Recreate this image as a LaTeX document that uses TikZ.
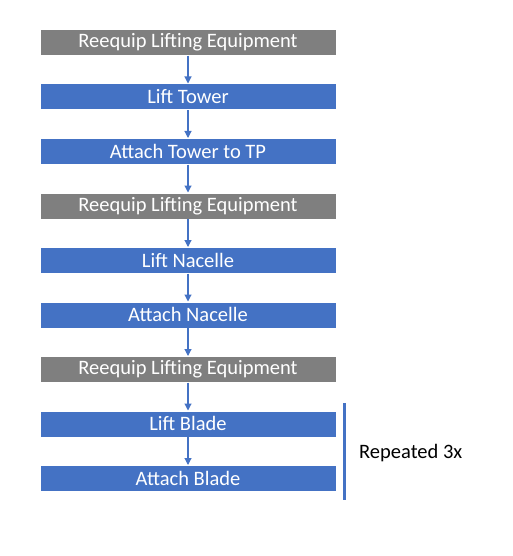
\documentclass[tikz,border=0pt]{standalone}
\usepackage{fontspec}
\setmainfont{Carlito}
\usetikzlibrary{arrows.meta}
\definecolor{bblue}{HTML}{4472C4}
\definecolor{bgray}{HTML}{7F7F7F}
\begin{document}
\begin{tikzpicture}[x=1pt,y=-1pt,
  stepbox/.style={draw=white,line width=0.6pt,minimum width=296pt,minimum height=26pt,inner sep=0pt,text=white,font=\fontsize{20.5}{24}\selectfont,anchor=north},
  bluebox/.style={stepbox,fill=bblue},
  graybox/.style={stepbox,fill=bgray},
  conn/.style={draw=bblue,line width=1.1pt,-{Triangle[length=7pt,width=7pt]}}]
\useasboundingbox (0,0) rectangle (512,556);
\node[graybox] (a) at (188,29) {Reequip Lifting Equipment};
\node[bluebox] (b) at (188,83.5) {Lift Tower};
\node[bluebox] (c) at (188,138) {Attach Tower to TP};
\node[graybox] (d) at (188,192.5) {Reequip Lifting Equipment};
\node[bluebox] (e) at (188,247) {Lift Nacelle};
\node[bluebox] (f) at (188,301.5) {Attach Nacelle};
\node[graybox] (g) at (188,356) {Reequip Lifting Equipment};
\node[bluebox] (h) at (188,410.5) {Lift Blade};
\node[bluebox] (i) at (188,465) {Attach Blade};
\foreach \u/\v in {a/b,b/c,c/d,d/e,e/f,f/g,g/h,h/i}
  \draw[conn] (\u.south) -- (\v.north);
\coordinate (rt) at (344.5,403);
\coordinate (rb) at (344.5,500);
\draw[bblue,line width=3pt] (rt) -- (rb);
\node[anchor=west,inner sep=0pt,font=\fontsize{20.5}{24}\selectfont] (rep) at (359,453) {Repeated 3x};
\end{tikzpicture}
\end{document}
